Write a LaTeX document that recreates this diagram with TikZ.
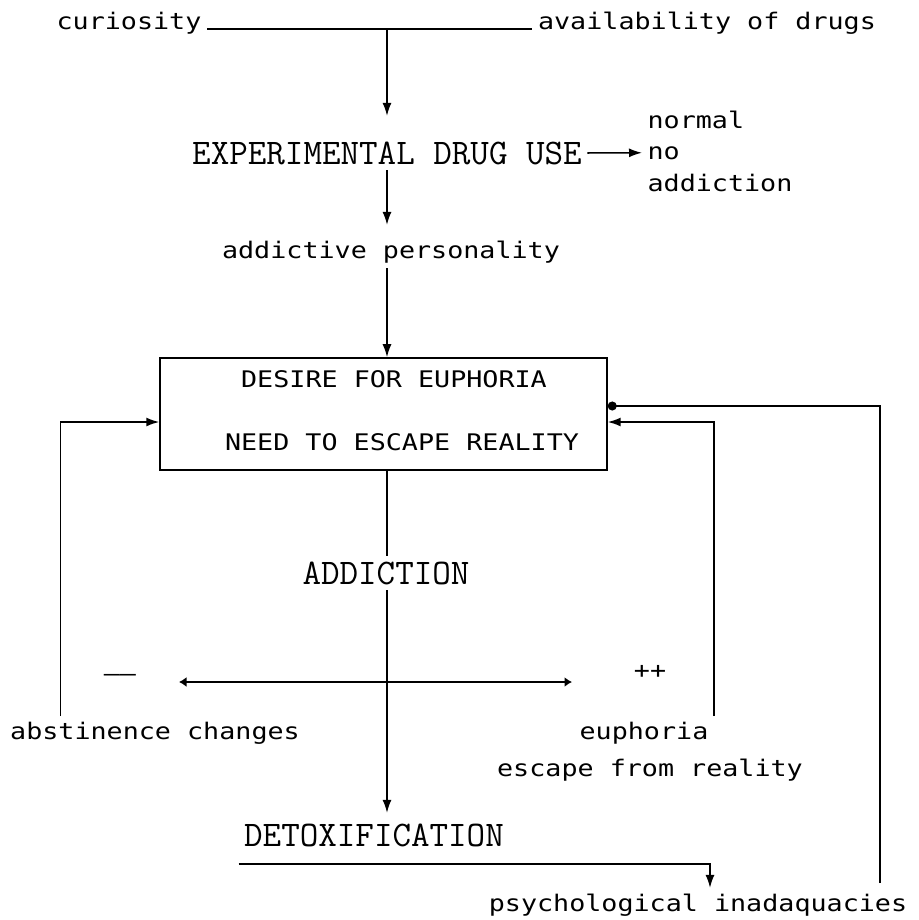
\documentclass[tikz,border=0pt]{standalone}
\usepackage{fontspec}
\newfontfamily\typer[FakeStretch=1.17]{DejaVu Sans Mono}
\usetikzlibrary{arrows.meta, positioning, calc}

\tikzset{
  lbl/.style={inner sep=3pt, font=\typer\fontsize{13}{15}\selectfont},
  stage/.style={inner sep=3pt, font=\ttfamily\fontsize{20.5}{22}\selectfont},
  wire/.style={line width=0.9pt},
  flow/.style={line width=0.9pt, -{Latex[length=2.6mm,width=1.8mm]}},
}

\begin{document}
\begin{tikzpicture}[x=0.02cm, y=-0.02cm]
        \useasboundingbox (0,0) rectangle (919,920);

        % Causes along the top
        \node[lbl, anchor=base] (cur) at (129,29) {curiosity};
        \node[lbl, anchor=base] (avail) at (707,29) {availability of drugs};
        \node[stage, anchor=base] (exper) at (387,164) {EXPERIMENTAL DRUG USE};
        \draw[wire] (cur.base east) -- (avail.base west);
        \draw[flow, shorten >=0.4cm] (exper.north |- cur.base) -- (exper.north);

        % Normal branch on the right
        \node[lbl, anchor=base west] (nrm) at (642,128) {normal};
        \node[lbl, anchor=base west] (nno) at (642,159) {no};
        \node[lbl, anchor=base west] (nadd) at (642,191) {addiction};
        \draw[flow] (exper.east) -- (nno.west);

        % Personality and the central box
        \node[lbl, anchor=base] (addp) at (391,258) {addictive personality};
        \draw[flow, shorten >=0.2cm] (exper.south) -- (exper.south |- addp.north);
        \node[draw, line width=0.9pt, minimum width=8.94cm, minimum height=2.24cm] (desire) at (383.5,414) {};
        \node[lbl, anchor=base] (desr) at (394,387) {DESIRE FOR EUPHORIA};
        \node[lbl, anchor=base] (need) at (402,450) {NEED TO ESCAPE REALITY};
        \draw[flow] (exper.south |- addp.south) -- (exper.south |- desire.north);

        % Addiction down to detoxification
        \node[stage, anchor=base] (addict) at (386,584) {ADDICTION};
        \node[stage, anchor=base] (detox) at (374,846) {DETOXIFICATION};
        \draw[wire] (exper.south |- desire.south) -- (exper.south |- addict.north);
        \draw[flow, shorten >=0.1cm] (exper.south |- addict.south) -- (exper.south |- detox.north);

        % Two-sided effects
        \node[lbl] (minus) at (120,678) {——};
        \node[lbl] (plus) at (650,672) {++};
        \coordinate (effl) at (179,682);
        \coordinate (effr) at (572,682);
        \draw[wire, {Latex[length=1.5mm,width=2mm]}-{Latex[length=1.5mm,width=2mm]}] (effl) -- (effr);

        % Outcomes
        \node[lbl, anchor=base] (abst) at (155,739) {abstinence changes};
        \node[lbl, anchor=base] (euph) at (644,739) {euphoria};
        \node[lbl, anchor=base] (esc) at (650,776) {escape from reality};
        \node[lbl, anchor=base] (psych) at (698,911) {psychological inadaquacies};

        % Feedback into the box
        \draw[flow] ([xshift=1.12cm]abst.north west) |- ([yshift=-0.16cm]desire.west);
        \draw[flow] (euph.north east) |- ([yshift=-0.16cm]desire.east);
        \coordinate (back) at (880,883);
        \draw[wire, -{Circle[length=1.8mm]}] (back) |- ([yshift=0.16cm]desire.east);
        \draw[flow] ([yshift=-0.24cm]detox.south west) -| ([xshift=0.24cm]psych.north);
\end{tikzpicture}
\end{document}
